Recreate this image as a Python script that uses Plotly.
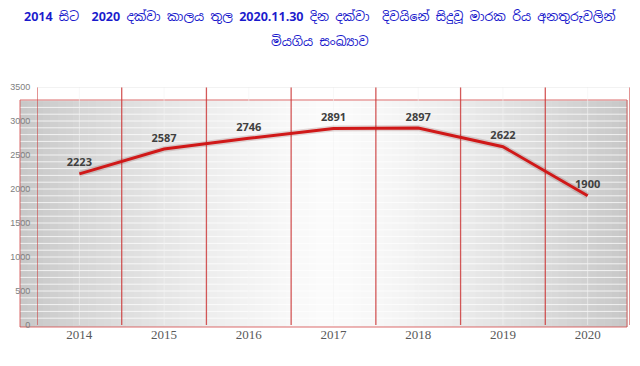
import plotly.graph_objects as go

years = ["2014", "2015", "2016", "2017", "2018", "2019", "2020"]
deaths = [2223, 2587, 2746, 2891, 2897, 2622, 1900]
y_ticks = [0, 500, 1000, 1500, 2000, 2500, 3000, 3500]

title_line1 = ("<b>2014</b> සිට  <b>2020</b> දක්වා කාලය තුල <b>2020.11.30</b> දින දක්වා  "
               "දිවයිනේ සිදුවූ මාරක රිය අනතුරුවලින්")
title_line2 = "මියගිය සංඛ්‍යාව"

W, H = 640, 366
L, R, T, B = 37, 10, 87, 41
pw, ph = W - L - R, H - T - B

def px2x(px):
    return (px - L) / pw

def py2y(py):
    return (H - B - py) / ph

fig = go.Figure()

# shadow-ish underlay
fig.add_trace(go.Scatter(x=years, y=deaths, mode="lines",
                         line=dict(color="rgba(90,0,0,0.15)", width=6),
                         hoverinfo="skip", showlegend=False))
fig.add_trace(go.Scatter(x=years, y=deaths, mode="lines+markers+text",
                         line=dict(color="#d01818", width=3),
                         marker=dict(size=6, color="rgba(0,0,0,0)"),
                         text=[str(v) for v in deaths], textposition="top center",
                         textfont=dict(family="Open Sans", size=11, color="#404040", weight="bold"),
                         showlegend=False))

shapes = []
# gradient background box made of strips
bx0, bx1 = 20, 627
by0, by1 = 100, 327
n = 80
for i in range(n):
    a = bx0 + (bx1 - bx0) * i / n
    b = bx0 + (bx1 - bx0) * (i + 1) / n + 0.6
    t = (i + 0.5) / n
    tc = 0.51
    d = abs(t - tc) / (tc if t < tc else 1 - tc)
    g = int(round(251 - 52 * d ** 1.4))
    shapes.append(dict(type="rect", xref="paper", yref="paper",
                       x0=px2x(a), x1=px2x(b), y0=py2y(by1), y1=py2y(by0),
                       fillcolor=f"rgb({g},{g},{g})", line=dict(width=0), layer="below"))
# white texture lines inside the box (every 100)
for v in range(100, 3400, 100):
    shapes.append(dict(type="line", xref="paper", yref="y",
                       x0=px2x(bx0), x1=px2x(bx1), y0=v, y1=v,
                       line=dict(color="rgba(255,255,255,0.75)", width=1), layer="below"))
# box border
shapes.append(dict(type="rect", xref="paper", yref="paper",
                   x0=px2x(bx0), x1=px2x(bx1), y0=py2y(by1), y1=py2y(by0),
                   line=dict(color="rgba(210,70,70,0.8)", width=1), layer="below"))
# red category boundary lines
for i in range(len(years) + 1):
    shapes.append(dict(type="line", xref="x", yref="paper",
                       x0=i - 0.5, x1=i - 0.5, y0=0.0, y1=1.0,
                       line=dict(color="rgba(205,60,60,0.85)", width=1.3), layer="below"))

fig.update_layout(
    width=W, height=H,
    margin=dict(l=L, r=R, t=T, b=B),
    paper_bgcolor="white", plot_bgcolor="rgba(0,0,0,0)",
    shapes=shapes,
    annotations=[
        dict(text=title_line1, xref="paper", yref="paper", x=px2x(320), y=py2y(17),
             showarrow=False, xanchor="center", yanchor="middle",
             font=dict(family="Noto Sans Sinhala, Liberation Sans, Arial", size=12.5, color="#1a1acc")),
        dict(text=title_line2, xref="paper", yref="paper", x=px2x(320), y=py2y(41),
             showarrow=False, xanchor="center", yanchor="middle",
             font=dict(family="Noto Sans Sinhala, Liberation Sans, Arial", size=12.5, color="#1a1acc")),
    ],
    xaxis=dict(type="category", range=[-0.5, 6.5], showgrid=False,
               showline=False, zeroline=False, ticks="",
               tickfont=dict(family="Liberation Serif", size=13, color="#595959")),
    yaxis=dict(range=[0, 3500], tickvals=y_ticks, showgrid=False,
               showline=False, zeroline=False, ticks="outside", ticklen=4,
               tickcolor="rgba(0,0,0,0)",
               tickfont=dict(family="Liberation Sans", size=9, color="#808080")),
)
# light vertical lines at category centres and top gridline, drawn as shapes
for i in range(len(years)):
    fig.add_shape(type="line", xref="x", yref="paper", x0=i, x1=i, y0=0, y1=1,
                  line=dict(color="rgba(244,244,244,0.6)", width=1), layer="below")
fig.add_shape(type="line", xref="paper", yref="y", x0=0, x1=1, y0=3500, y1=3500,
              line=dict(color="#e6e6e6", width=1), layer="below")

fig.write_html("out.html")
